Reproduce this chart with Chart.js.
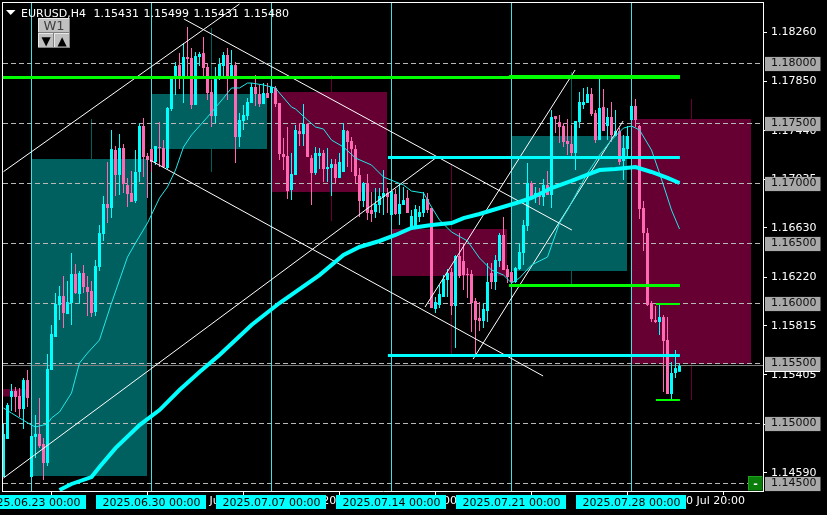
<!DOCTYPE html>
<html>
<head>
<meta charset="utf-8">
<title>EURUSD,H4</title>
<script src="https://cdn.jsdelivr.net/npm/chart.js@4/dist/chart.umd.js"></script>
<style>
html, body { margin: 0; padding: 0; background: #000; overflow: hidden; }
canvas { display: block; }
</style>
</head>
<body>
<canvas id="chart" width="827" height="515"></canvas>
<script>
// H4 candles, one entry per bar
const opens = [
1.14554,1.14871,1.15221,1.15271,1.15229,1.15121,1.15362,1.14554,1.14888,1.14913,
1.14829,1.14671,1.15446,1.15721,1.15987,1.16062,1.15912,1.16004,1.16246,1.16079,
1.16254,1.16137,1.16104,1.15929,1.16304,1.16579,1.16829,1.16796,1.17279,1.17071,
1.17296,1.16987,1.16921,1.16854,1.17096,1.17479,1.17229,1.17287,1.17179,1.17304,
1.17296,1.17129,1.17621,1.17871,1.17987,1.17871,1.18054,1.18046,1.17654,1.18054,
1.18087,1.17971,1.17762,1.17562,1.17871,1.17979,1.18071,1.17879,1.17987,1.17387,
1.17521,1.17562,1.17671,1.17804,1.17746,1.17662,1.17754,1.17754,1.17796,1.17671,
1.17246,1.17229,1.16946,1.17071,1.17437,1.17412,1.17496,1.17212,1.17087,1.17229,
1.17254,1.17121,1.17129,1.17162,1.17046,1.17096,1.17437,1.17354,1.17287,1.17071,
1.16854,1.17004,1.16779,1.16762,1.16821,1.16887,1.16921,1.16737,1.16912,1.16746,
1.16821,1.16879,1.16629,1.16629,1.16721,1.16754,1.16871,1.16796,1.15954,1.15987,
1.16054,1.16196,1.16262,1.15979,1.16396,1.16354,1.16246,1.16246,1.16021,1.15879,
1.15854,1.15937,1.16254,1.16179,1.16354,1.16571,1.16287,1.16262,1.16179,1.16287,
1.16421,1.16646,1.17004,1.16887,1.16921,1.16887,1.16987,1.16904,1.17562,1.17512,
1.17479,1.17354,1.17329,1.17254,1.17512,1.17654,1.17671,1.17746,1.17587,1.17362,
1.17637,1.17479,1.17554,1.17396,1.17437,1.17187,1.17287,1.17529,1.17646,1.17479,
1.16796,1.16587,1.16004,1.15862,1.15846,1.15887,1.15696,1.15246,1.15421,1.15431];
const highs = [
1.14996,1.15171,1.15329,1.15304,1.15296,1.15379,1.15446,1.14896,1.15070,1.15212,
1.14879,1.15579,1.15821,1.16087,1.16146,1.16229,1.16187,1.16421,1.16329,1.16271,
1.16321,1.16229,1.16187,1.16362,1.16654,1.16896,1.17179,1.17446,1.17312,1.17412,
1.17329,1.17046,1.17104,1.17279,1.17504,1.17546,1.17254,1.17287,1.17312,1.17512,
1.17362,1.17637,1.17871,1.18012,1.18087,1.18171,1.18304,1.18129,1.18096,1.18096,
1.18221,1.18004,1.17862,1.17971,1.18046,1.18096,1.18129,1.18112,1.18012,1.17587,
1.17654,1.17712,1.17837,1.17904,1.17821,1.17837,1.17837,1.17812,1.17812,1.17671,
1.17379,1.17471,1.17254,1.17487,1.17504,1.17662,1.17504,1.17237,1.17304,1.17296,
1.17279,1.17296,1.17204,1.17204,1.17254,1.17504,1.17446,1.17387,1.17321,1.17129,
1.17012,1.17079,1.16929,1.16962,1.16962,1.17112,1.16962,1.16937,1.16954,1.17004,
1.16971,1.16946,1.16779,1.16821,1.16812,1.16929,1.16921,1.16796,1.16054,1.16154,
1.16237,1.16287,1.16296,1.16404,1.16587,1.16504,1.16296,1.16279,1.16046,1.16012,
1.16004,1.16337,1.16337,1.16404,1.16587,1.16721,1.16321,1.16262,1.16304,1.16504,
1.16696,1.17171,1.17021,1.16971,1.16962,1.17037,1.17104,1.17612,1.17562,1.17571,
1.17504,1.17537,1.17487,1.17521,1.17762,1.17796,1.17804,1.17796,1.17612,1.17871,
1.17787,1.17629,1.17679,1.17612,1.17462,1.17404,1.17479,1.17671,1.17704,1.17487,
1.16854,1.16629,1.16021,1.15979,1.15987,1.15904,1.15887,1.15512,1.15612,1.15499];
const lows = [
1.14554,1.14871,1.15104,1.15095,1.15054,1.14954,1.15138,1.14554,1.14712,1.14795,
1.14529,1.14646,1.15446,1.15721,1.15862,1.15796,1.15912,1.15821,1.16079,1.15996,
1.16087,1.15896,1.15887,1.15896,1.16271,1.16521,1.16671,1.16712,1.16896,1.16904,
1.16921,1.16804,1.16846,1.16837,1.17012,1.17054,1.16879,1.17096,1.17154,1.17137,
1.17137,1.17121,1.17604,1.17737,1.17787,1.17671,1.17871,1.17621,1.17654,1.17979,
1.17896,1.17696,1.17471,1.17504,1.17862,1.17887,1.17696,1.17871,1.17171,1.17304,
1.17446,1.17529,1.17671,1.17646,1.17637,1.17662,1.17712,1.17754,1.17637,1.17196,
1.17112,1.16871,1.16862,1.17071,1.17312,1.17312,1.17221,1.16821,1.17071,1.17121,
1.17012,1.17012,1.16896,1.17004,1.17046,1.17096,1.17137,1.17096,1.17004,1.16721,
1.16804,1.16696,1.16679,1.16712,1.16754,1.16737,1.16754,1.16679,1.16737,1.16654,
1.16821,1.16754,1.16612,1.16621,1.16679,1.16721,1.16754,1.15962,1.15921,1.15962,
1.16054,1.16054,1.15904,1.15629,1.16212,1.16112,1.16046,1.15762,1.15571,1.15771,
1.15796,1.15846,1.16121,1.16112,1.16304,1.16279,1.16171,1.16171,1.16171,1.16279,
1.16321,1.16604,1.16862,1.16837,1.16821,1.16812,1.16904,1.16796,1.17421,1.17337,
1.17304,1.17237,1.17221,1.17112,1.17462,1.17621,1.17671,1.17562,1.17337,1.17362,
1.17437,1.17362,1.17346,1.17396,1.17154,1.17029,1.17212,1.17512,1.17471,1.16704,
1.16437,1.15979,1.15846,1.15837,1.15737,1.15262,1.15246,1.15204,1.15379,1.15431];
const closes = [
1.14913,1.15154,1.15271,1.15221,1.15121,1.15362,1.15212,1.14896,1.14913,1.14812,
1.14671,1.15454,1.15746,1.15996,1.16062,1.15921,1.16012,1.16246,1.16087,1.16254,
1.16137,1.16096,1.15921,1.16312,1.16587,1.16829,1.16796,1.17287,1.17071,1.17296,
1.16996,1.16912,1.16846,1.17096,1.17479,1.17221,1.17196,1.17179,1.17312,1.17296,
1.17137,1.17629,1.17871,1.17979,1.17871,1.18054,1.18037,1.17654,1.18062,1.18079,
1.17962,1.17754,1.17562,1.17871,1.17996,1.18071,1.17871,1.17987,1.17387,1.17529,
1.17571,1.17679,1.17804,1.17746,1.17662,1.17754,1.17712,1.17804,1.17662,1.17246,
1.17221,1.16937,1.17079,1.17446,1.17412,1.17496,1.17221,1.17087,1.17254,1.17254,
1.17121,1.17137,1.17162,1.17046,1.17179,1.17446,1.17346,1.17287,1.17062,1.16854,
1.17004,1.16754,1.16746,1.16829,1.16896,1.16921,1.16887,1.16937,1.16746,1.16829,
1.16862,1.16754,1.16729,1.16787,1.16762,1.16871,1.16779,1.15962,1.16012,1.16079,
1.16204,1.16254,1.15979,1.16396,1.16229,1.16237,1.16237,1.16004,1.15862,1.15854,
1.15954,1.16179,1.16179,1.16362,1.16571,1.16279,1.16221,1.16179,1.16296,1.16429,
1.16654,1.17004,1.16887,1.16921,1.16887,1.16987,1.16904,1.17554,1.17537,1.17471,
1.17346,1.17329,1.17254,1.17521,1.17679,1.17679,1.17746,1.17579,1.17362,1.17629,
1.17437,1.17554,1.17404,1.17437,1.17179,1.17296,1.17396,1.17646,1.17529,1.16787,
1.16587,1.15987,1.15871,1.15846,1.15887,1.15687,1.15246,1.15421,1.15462,1.15480];

// thin moving average, read at the bar numbers in thinMaBars
const thinMaBars = [0,2,4,7,8,11,12,14,17,19,21,24,27,31,33,36,39,41,43,45,47,51,55,57,59,61,62,65,68,69,72,73,76,78,80,82,85,88,92,95,100,102,105,107,109,112,116,119,122,125,127,129,132,136,139,141,146,149,152,155,157,159,162,164,167,169];
const thinMaValues = [1.15129,1.15087,1.15046,1.14987,1.14971,1.14996,1.15046,1.15096,1.15254,1.15504,1.15587,1.15696,1.16004,1.16387,1.16504,1.16671,1.16879,1.16971,1.17112,1.17304,1.17404,1.17554,1.17712,1.17796,1.17796,1.17837,1.17837,1.17821,1.17796,1.17754,1.17637,1.17621,1.17529,1.17471,1.17454,1.17362,1.17304,1.17212,1.17154,1.17054,1.16987,1.16937,1.16921,1.16804,1.16696,1.16596,1.16521,1.16379,1.16279,1.16237,1.16171,1.16212,1.16321,1.16387,1.16671,1.16779,1.17087,1.17237,1.17362,1.17462,1.17479,1.17446,1.17279,1.17087,1.16779,1.16621];

// thick moving average
const thickMaBars = [14,17,22,24,28,34,39,44,49,54,58,62,69,79,85,89,94,98,102,107,112,115,119,124,129,132,137,142,147,149,153,158,162,166,169];
const thickMaValues = [1.14446,1.14496,1.14554,1.14638,1.14795,1.14987,1.15112,1.15279,1.15429,1.15571,1.15696,1.15821,1.16004,1.16237,1.16404,1.16471,1.16521,1.16571,1.16629,1.16654,1.16671,1.16712,1.16746,1.16796,1.16846,1.16879,1.16962,1.17021,1.17087,1.17112,1.17121,1.17137,1.17096,1.17046,1.17004];

// weekly candles shown behind the H4 bars
const weekStarts = [-0.125,6.875,36.875,66.875,96.875,126.875,157.125];
const weekEnds = [5.875,35.875,65.875,95.875,125.875,155.875,186.875];
const weekOpens = [1.15287,1.14562,1.17287,1.17762,1.16621,1.16271,1.17537];
const weekCloses = [1.15225,1.17204,1.17746,1.16929,1.16229,1.17396,1.15496];
const weekWickBars = [22,52,82,112,142,172];
const weekHighs = [1.17537,1.18296,1.17904,1.17154,1.17929,1.17704];
const weekLows = [1.14546,1.17096,1.16687,1.15579,1.16162,1.15196];
const weekWickBull = [true,true,false,false,true,false];

// trend lines: bar, price, bar, price
const trendLines = [
  [0,1.17099,59,1.18496],
  [45.1,1.18371,142.1,1.16612],
  [36.6,1.17196,134.9,1.15396],
  [0,1.14546,108.4,1.17221],
  [105.4,1.15971,142.9,1.17946],
  [117.4,1.15537,154.9,1.17521]
];

// horizontal rays: price, first bar
const greenLevels = [1.17883,1.17892,1.1615];
const greenStarts = [-0.125,126.4,126.4];
const cyanLevels = [1.17217,1.15567];
const cyanStarts = [96.1,96.1];
const thinGreenLevels = [1.15996,1.15196];
const rayEnd = 169.1;
const thinGreenStart = 163.1;

const levels = [1.18,1.175,1.17,1.165,1.16,1.155,1.15,1.145];
const bidPrice = 1.15483;
const priceTicks = [1.1826,1.1785,1.1744,1.17035,1.1663,1.1622,1.15815,1.15405,1.14995,1.1459];

const weekBars = [7,37,67,97,127,157];
const weekLabels = ['2025.06.23 00:00','2025.06.30 00:00','2025.07.07 00:00','2025.07.14 00:00','2025.07.21 00:00','2025.07.28 00:00'];
const timeTicks = [24,48,72,96,120,144,168];
const timeLabels = ['26 Jun 20:00','2 Jul 20:00','8 Jul 20:00','14 Jul 20:00','18 Jul 20:00','24 Jul 20:00','30 Jul 20:00'];

const headerQuotes = ['1.15431','1.15499','1.15431','1.15480'];

const BULL = '#00ffff', BEAR = '#ff69b4';
const TEAL = '#006060', WINE = '#660033';
const FONT = '11px "DejaVu Sans"';
const yMax = 1.18504167, yMin = 1.144375;
const xMin = -0.125, xMax = 189.875;

const isLevel = v => levels.some(l => Math.abs(l - v) < 1e-7);

function line(points, color, width, order, extra) {
  return Object.assign({
    type: 'line', data: points, borderColor: color, borderWidth: width,
    pointRadius: 0, tension: 0, fill: false, order: order
  }, extra || {});
}

function bars(points, colors, thickness, order, extra) {
  return Object.assign({
    type: 'bar', data: points, backgroundColor: colors, order: order,
    grouped: false, barPercentage: 1, categoryPercentage: 1,
    maxBarThickness: thickness, inflateAmount: 0
  }, extra || {});
}

const datasets = [];

weekStarts.forEach((s, i) => {
  const top = Math.max(weekOpens[i], weekCloses[i]);
  const bottom = Math.min(weekOpens[i], weekCloses[i]);
  const col = weekCloses[i] > weekOpens[i] ? TEAL : WINE;
  datasets.push(line([{x: s, y: top}, {x: weekEnds[i], y: top}], 'transparent', 0, 70,
    {fill: {value: bottom}, backgroundColor: col}));
});
datasets.push(bars(weekWickBars.map((b, i) => ({x: b, y: [weekLows[i], weekHighs[i]]})),
  weekWickBull.map(b => b ? TEAL : WINE), 1, 65));
levels.forEach(v => {
  datasets.push(line([{x: xMin, y: v}, {x: xMax, y: v}], '#b8b8b8', 1, 60, {borderDash: [5, 3]}));
});
datasets.push(line([{x: xMin, y: bidPrice}, {x: xMax, y: bidPrice}], '#808080', 1, 58));
weekBars.forEach(b => {
  datasets.push(line([{x: b, y: yMin}, {x: b, y: yMax}], '#40e0e0', 1, 55));
});

const barColor = opens.map((o, i) => closes[i] >= o ? BULL : BEAR);
datasets.push(bars(opens.map((o, i) => ({x: i, y: [lows[i], highs[i]]})), barColor, 1, 40));
datasets.push(bars(opens.map((o, i) => ({x: i, y: [o, closes[i]]})), barColor, 3, 39, {minBarLength: 1}));

trendLines.forEach(t => {
  datasets.push(line([{x: t[0], y: t[1]}, {x: t[2], y: t[3]}], '#ffffff', 1, 30));
});
datasets.push(line(thinMaBars.map((b, i) => ({x: b, y: thinMaValues[i]})), '#20e8e8', 1, 20));
datasets.push(line(thickMaBars.map((b, i) => ({x: b, y: thickMaValues[i]})), BULL, 4, 15));
greenLevels.forEach((v, i) => {
  datasets.push(line([{x: greenStarts[i], y: v}, {x: rayEnd, y: v}], '#00ff00', 3, 10));
});
cyanLevels.forEach((v, i) => {
  datasets.push(line([{x: cyanStarts[i], y: v}, {x: rayEnd, y: v}], BULL, 3, 9));
});
thinGreenLevels.forEach(v => {
  datasets.push(line([{x: thinGreenStart, y: v}, {x: rayEnd, y: v}], '#00ff00', 2, 8));
});

function bevel(ctx, x, y, w, h, face, light, dark) {
  ctx.fillStyle = face;
  ctx.fillRect(x, y, w, h);
  ctx.fillStyle = light;
  ctx.fillRect(x, y, w, 1);
  ctx.fillRect(x, y, 1, h);
  ctx.fillStyle = dark;
  ctx.fillRect(x, y + h - 1, w, 1);
  ctx.fillRect(x + w - 1, y, 1, h);
}

const chrome = {
  id: 'chrome',
  beforeDraw(chart) {
    const c = chart.ctx;
    c.fillStyle = '#000';
    c.fillRect(0, 0, chart.width, chart.height);
  },
  afterDraw(chart) {
    const c = chart.ctx, xs = chart.scales.x, ys = chart.scales.y;
    c.save();
    // frame, left and top sides
    c.fillStyle = '#fff';
    c.fillRect(2, 2, 762, 1);
    c.fillRect(2, 2, 1, 490);
    // mark under the 1.15500 tag
    c.fillRect(765, Math.round(ys.getPixelForValue(1.155)) + 7, 55, 1);

    // week tags along the time axis
    c.font = FONT;
    c.textBaseline = 'alphabetic';
    c.textAlign = 'center';
    weekBars.forEach((b, i) => {
      const px = xs.getPixelForValue(b);
      c.fillStyle = '#00ffff';
      c.fillRect(px - 55.5, 495, 110, 14);
      c.fillStyle = '#000';
      c.fillText(weekLabels[i], px, 506);
    });

    // header
    c.textAlign = 'left';
    c.fillStyle = '#fff';
    c.beginPath();
    c.moveTo(6, 10); c.lineTo(15.5, 10); c.lineTo(10.7, 15); c.closePath();
    c.fill();
    c.fillText('EURUSD,H4', 21, 17);
    headerQuotes.forEach((q, i) => c.fillText(q, 93.5 + i * 50, 17));

    // W1 buttons
    bevel(c, 38, 18, 32, 15, '#c0c0c0', '#e8e8e8', '#808080');
    bevel(c, 38, 33, 16, 15, '#c0c0c0', '#e8e8e8', '#808080');
    bevel(c, 54, 33, 16, 15, '#c0c0c0', '#e8e8e8', '#808080');
    c.textAlign = 'center';
    c.fillStyle = '#404040';
    c.font = '13px "DejaVu Sans"';
    c.fillText('W1', 54, 30);
    c.fillStyle = '#000';
    c.font = '12px "DejaVu Sans"';
    c.fillText('\u25BC', 46, 45);
    c.fillText('\u25B2', 62, 45);

    // green minus button
    bevel(c, 748, 476, 15, 15, '#0b7d0b', '#1fa01f', '#064a06');
    c.fillStyle = '#fff';
    c.font = 'bold 11px "DejaVu Sans"';
    c.fillText('-', 755.5, 487);
    c.restore();
  }
};

new Chart(document.getElementById('chart'), {
  data: {datasets: datasets},
  options: {
    responsive: false,
    animation: false,
    events: [],
    layout: {padding: {left: 3, top: 3, right: 0, bottom: 0}},
    plugins: {legend: {display: false}, tooltip: {enabled: false}},
    scales: {
      x: {
        type: 'linear', min: xMin, max: xMax, offset: false,
        afterFit: s => { s.height = 24; s.paddingLeft = 0; s.paddingRight = 0; },
        afterBuildTicks: s => { s.ticks = timeTicks.map(v => ({value: v})); },
        border: {color: '#fff'},
        grid: {drawOnChartArea: false, color: '#fff', tickLength: 4},
        ticks: {
          autoSkip: false, maxRotation: 0, minRotation: 0, align: 'start', padding: 0,
          color: '#fff', font: {family: 'DejaVu Sans', size: 11},
          callback: v => ' ' + timeLabels[timeTicks.indexOf(v)]
        }
      },
      y: {
        type: 'linear', position: 'right', min: yMin, max: yMax,
        afterFit: s => { s.width = 64; s.paddingTop = 0; s.paddingBottom = 0; },
        afterBuildTicks: s => { s.ticks = priceTicks.concat(levels).map(v => ({value: v})); },
        border: {color: '#fff'},
        grid: {
          drawOnChartArea: false, tickLength: 4,
          tickColor: ctx => isLevel(ctx.tick.value) ? 'transparent' : '#fff'
        },
        ticks: {
          autoSkip: false, padding: 4,
          font: {family: 'DejaVu Sans', size: 11},
          color: ctx => isLevel(ctx.tick.value) ? '#101010' : '#fff',
          showLabelBackdrop: ctx => isLevel(ctx.tick.value),
          backdropColor: '#a9a9a9',
          backdropPadding: {left: 6, right: 4, top: 0, bottom: 1},
          callback: v => v.toFixed(5)
        }
      }
    }
  },
  plugins: [chrome]
});
</script>
</body>
</html>
